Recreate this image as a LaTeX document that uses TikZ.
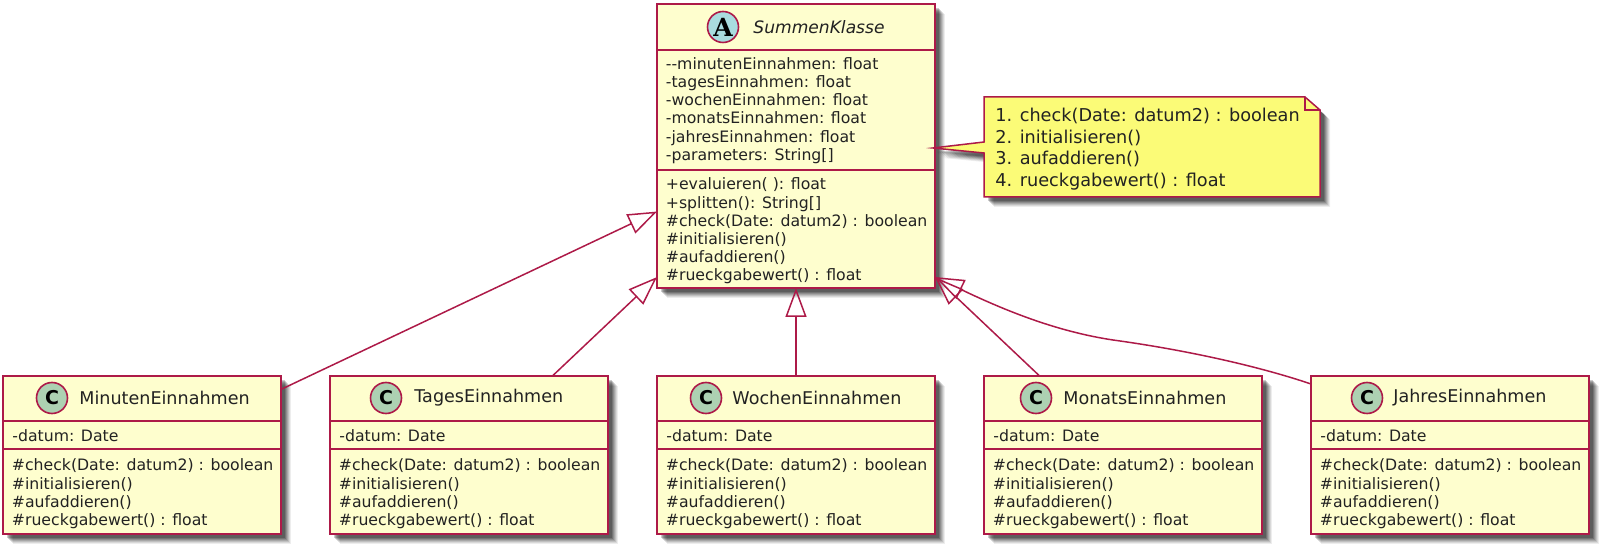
\documentclass[tikz,border=0pt]{standalone}
\usepackage{fontspec}
\setmainfont{DejaVu Sans}
\newfontfamily\spotserif{DejaVu Serif}
\usetikzlibrary{calc,arrows.meta,backgrounds}
\definecolor{umlborder}{HTML}{AD1A48}
\definecolor{umlfill}{HTML}{FEFECE}
\definecolor{umlnote}{HTML}{FBFB77}
\definecolor{spotC}{HTML}{ADD1B2}
\definecolor{spotA}{HTML}{A9DCDF}
\definecolor{umltext}{HTML}{222222}
\tikzset{
  x=0.5pt,y=-0.5pt,
  umlbox/.style={draw=umlborder,fill=umlfill,line width=1.1pt,rectangle,inner sep=0pt,outer sep=0pt},
  smallbox/.style={umlbox,minimum width=139pt,minimum height=79pt},
  bigbox/.style={umlbox,minimum width=139pt,minimum height=142pt},
  sepline/.style={draw=umlborder,line width=1.1pt},
  member/.style={anchor=north west,inner sep=0pt,align=left,text=umltext,font=\fontsize{7.85}{9.1}\selectfont},
  title/.style={anchor=west,inner sep=0pt,text=umltext,font=\fontsize{8.78}{12}\selectfont},
  notetext/.style={anchor=north west,inner sep=0pt,align=left,text=umltext,font=\fontsize{8.85}{10.7}\selectfont},
  spot/.style={circle,draw=umlborder,line width=0.8pt,minimum size=15.5pt,inner sep=0pt,text=black},
  inherit/.style={draw=umlborder,line width=0.75pt,-{Triangle[open,length=14.5pt,width=10.5pt]}},
}
\newcommand{\softshadow}[1]{%
  \foreach \d/\o in {10/.07,9/.09,8/.11,7/.13,6/.15,5/.18,4/.2}{
    \fill[black,opacity=\o] ($(#1.north west)+(\d,\d)$) rectangle ($(#1.south east)+(\d,\d)$);
  }%
}
\newcommand{\subclass}[5]{% id, centre x, name, spot offset, title offset
  \node[smallbox] (#1) at (#2,455) {};
  \node[spot,fill=spotC,font=\fontsize{9.5}{10}\selectfont\bfseries] (#1spot) at ($(#1.north west)+(#4,22)$) {C};
  \node[title] (#1name) at ($(#1.north west)+(#5,22)$) {#3};
  \draw[sepline] ($(#1.north west)+(0,45)$) -- ($(#1.north east)+(0,45)$);
  \draw[sepline] ($(#1.north west)+(0,73)$) -- ($(#1.north east)+(0,73)$);
  \node[member] (#1attr) at ($(#1.north west)+(9,53)$) {-datum: Date};
  \node[member] (#1ops) at ($(#1.north west)+(8.5,82.5)$) {\#check(Date: datum2) : boolean\\\#initialisieren()\\\#aufaddieren()\\\#rueckgabewert() : float};
  \begin{scope}[on background layer]\softshadow{#1}\end{scope}
}
\begin{document}
\begin{tikzpicture}
\useasboundingbox (0,0) rectangle (1600,544);
% abstract class
\node[bigbox] (summe) at (796,146) {};
\node[spot,fill=spotA,font=\fontsize{12.5}{13}\spotserif\bfseries] (summespot) at ($(summe.north west)+(66,23)$) {A};
\node[title,font=\fontsize{8.55}{12}\selectfont\itshape] (summename) at ($(summe.north west)+(96,23)$) {SummenKlasse};
\draw[sepline] ($(summe.north west)+(0,46)$) -- ($(summe.north east)+(0,46)$);
\draw[sepline] ($(summe.north west)+(0,166)$) -- ($(summe.north east)+(0,166)$);
\node[member] (summeattr) at ($(summe.north west)+(8.5,53)$) {-{}-minutenEinnahmen: float\\-tagesEinnahmen: float\\-wochenEinnahmen: float\\-monatsEinnahmen: float\\-jahresEinnahmen: float\\-parameters: String[]};
\node[member] (summeops) at ($(summe.north west)+(8.5,173.5)$) {+evaluieren( ): float\\+splitten(): String[]\\\#check(Date: datum2) : boolean\\\#initialisieren()\\\#aufaddieren()\\\#rueckgabewert() : float};
\begin{scope}[on background layer]\softshadow{summe}\end{scope}
% subclasses
\subclass{minuten}{142}{MinutenEinnahmen}{49}{76}
\subclass{tages}{469}{TagesEinnahmen}{56}{84}
\subclass{wochen}{796}{WochenEinnahmen}{49}{75}
\subclass{monats}{1123}{MonatsEinnahmen}{52}{79}
\subclass{jahres}{1450}{JahresEinnahmen}{56}{82}
% note
\fill[umlnote,draw=umlborder,line width=0.75pt,line join=miter]
  (984,97) -- (1305,97) -- (1320,110) -- (1320,197) -- (984,197) -- (984,153) -- (933,148) -- (984,142) -- cycle;
\draw[umlborder,line width=0.75pt] (1305,97) -- (1305,110) -- (1320,110);
\begin{scope}[on background layer]
  \foreach \d/\o in {10/.07,9/.09,8/.11,7/.13,6/.15,5/.18,4/.2}{
    \fill[black,opacity=\o,shift={(\d,\d)}]
      (984,97) -- (1305,97) -- (1320,110) -- (1320,197) -- (984,197) -- (984,153) -- (933,148) -- (984,142) -- cycle;
  }
\end{scope}
\node[notetext] (notebody) at (995,108) {1. check(Date: datum2) : boolean\\2. initialisieren()\\3. aufaddieren()\\4. rueckgabewert() : float};
% connectors
\draw[inherit] (minuten) -- (summe);
\draw[inherit] (tages) -- (summe);
\draw[inherit] (wochen) -- (summe);
\draw[inherit] (monats) -- (summe);
\draw[inherit] ($(jahres.north west)+(0,8)$) .. controls (1270,370) and (1200,352) .. (1113,340) .. controls (1060,332) and (1010,313) .. ($(summe.south east)+(0,-11)$);
\end{tikzpicture}
\end{document}
